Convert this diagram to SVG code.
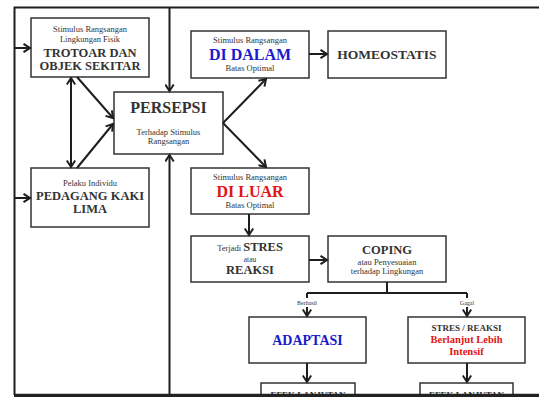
<svg xmlns="http://www.w3.org/2000/svg" width="539" height="397" viewBox="0 0 539 397">
<defs>
<marker id="arr" viewBox="0 0 10 10" refX="8" refY="5" markerWidth="10" markerHeight="10" markerUnits="userSpaceOnUse" orient="auto-start-reverse">
<path d="M1.5,0.8 L8,5 L1.5,9.2" fill="none" stroke="#1e1e1e" stroke-width="2"/>
</marker>
</defs>
<style>
.box{fill:#fff;stroke:#333;stroke-width:1.5}
.ln{fill:none;stroke:#1e1e1e;stroke-width:2}
.a{marker-end:url(#arr)}
text{font-family:"Liberation Serif","Times New Roman",serif;text-anchor:middle;fill:#333}
.s{font-size:8.5px}
.xs{font-size:6px}
.b{font-weight:bold}
.blue{fill:#1a1acc}
.red{fill:#e01515}
</style>
<rect width="539" height="397" fill="#fff"/>
<g id="n-trotoar">
<rect class="box" x="31" y="18" width="118" height="59"/>
<text class="s" x="90" y="32">Stimulus Rangsangan</text>
<text class="s" x="90" y="42">Lingkungan Fisik</text>
<text class="b" font-size="12.5" x="90" y="57">TROTOAR DAN</text>
<text class="b" font-size="12.5" x="90" y="70">OBJEK SEKITAR</text>
</g>
<g id="n-persepsi">
<rect class="box" x="114" y="92" width="109" height="62"/>
<text class="b" font-size="16" x="168.5" y="113">PERSEPSI</text>
<text class="s" x="168.5" y="135">Terhadap Stimulus</text>
<text class="s" x="168.5" y="144">Rangsangan</text>
</g>
<g id="n-pedagang">
<rect class="box" x="31" y="168" width="118" height="59"/>
<text class="s" x="90" y="186">Pelaku Individu</text>
<text class="b" font-size="12.5" x="90" y="200">PEDAGANG KAKI</text>
<text class="b" font-size="12.5" x="90" y="213">LIMA</text>
</g>
<g id="n-didalam">
<rect class="box" x="191" y="31" width="118" height="47"/>
<text class="s" x="250" y="43">Stimulus Rangsangan</text>
<text class="b blue" font-size="16" x="250" y="60">DI DALAM</text>
<text class="s" x="250" y="71">Batas Optimal</text>
</g>
<g id="n-homeostatis">
<rect class="box" x="328" y="31" width="118" height="47"/>
<text class="b" font-size="13.5" x="387" y="59">HOMEOSTATIS</text>
</g>
<g id="n-diluar">
<rect class="box" x="191" y="168" width="118" height="46"/>
<text class="s" x="250" y="180">Stimulus Rangsangan</text>
<text class="b red" font-size="16" x="250" y="197">DI LUAR</text>
<text class="s" x="250" y="208">Batas Optimal</text>
</g>
<g id="n-stres">
<rect class="box" x="191" y="236" width="118" height="46"/>
<text x="250" y="251"><tspan class="s">Terjadi </tspan><tspan class="b" font-size="12.5">STRES</tspan></text>
<text font-size="7.5" x="250" y="262">atau</text>
<text class="b" font-size="12.5" x="250" y="274">REAKSI</text>
</g>
<g id="n-coping">
<rect class="box" x="328" y="236" width="118" height="46"/>
<text class="b" font-size="12.5" x="387" y="253.5">COPING</text>
<text class="s" x="387" y="265">atau Penyesuaian</text>
<text class="s" x="387" y="274">terhadap Lingkungan</text>
</g>
<g id="n-adaptasi">
<rect class="box" x="249" y="317" width="117" height="46"/>
<text class="b blue" font-size="14" x="307.5" y="345">ADAPTASI</text>
</g>
<g id="n-lanjut">
<rect class="box" x="408" y="317" width="117" height="46"/>
<text class="b" font-size="9" x="466.5" y="331">STRES / REAKSI</text>
<text class="b red" font-size="10.5" x="466.5" y="343">Berlanjut Lebih</text>
<text class="b red" font-size="10.5" x="466.5" y="355">Intensif</text>
</g>
<g id="n-efek1">
<rect class="box" x="261" y="383" width="94" height="20"/>
<text class="b" font-size="9" x="308" y="398">EFEK LANJUTAN</text>
</g>
<g id="n-efek2">
<rect class="box" x="420" y="383" width="93" height="20"/>
<text class="b" font-size="9" x="466.5" y="398">EFEK LANJUTAN</text>
</g>
<g id="connectors">
<path class="ln" d="M14.5,395 V7.5 H539"/>
<path class="ln a" d="M14.5,48 H30"/>
<path class="ln a" d="M14.5,198 H30"/>
<path class="ln a" d="M169.5,7.5 V91"/>
<path class="ln a" d="M169.5,395 V155"/>
<path class="ln a" d="M71,78 V167" style="marker-start:url(#arr)"/>
<path class="ln a" d="M77,77 L113,118"/>
<path class="ln a" d="M77,168 L113,124"/>
<path class="ln a" d="M223,123 L266,79"/>
<path class="ln a" d="M223,123 L266,167"/>
<path class="ln a" d="M309,54 H327"/>
<path class="ln a" d="M249,214 V235"/>
<path class="ln a" d="M309,260 H327"/>
<path class="ln" d="M387,282 V293 M307,293 H467 M307,293 V298 M467,293 V298"/>
<path class="ln a" d="M307,307 V316"/>
<path class="ln a" d="M467,307 V316"/>
<text class="xs" x="307" y="305">Berhasil</text>
<text class="xs" x="467" y="305">Gagal</text>
<path class="ln a" d="M307,363 V382"/>
<path class="ln a" d="M467,363 V382"/>
<path d="M14,395.5 H539" stroke="#222" stroke-width="3.5"/>
</g>
</svg>
